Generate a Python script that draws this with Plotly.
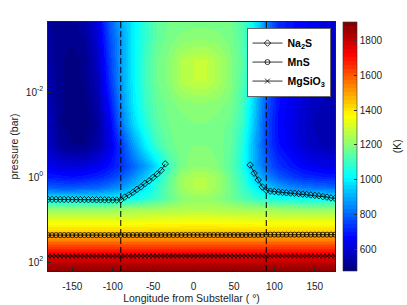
import numpy as np
import plotly.graph_objects as go

# ---------------- data ----------------
# temperature field grid (K): rows follow logp_grid (top -> bottom), columns follow lon_grid
lon_grid = [-180, -165, -150, -135, -120, -105, -90, -75, -60, -45, -30, -15, 0,
            15, 30, 45, 60, 75, 90, 105, 120, 135, 150, 165, 175]
logp_grid = [-3.65, -3.25, -2.75, -2.25, -1.75, -1.25, -0.75, -0.25, 0.0, 0.25, 0.5,
             0.75, 1.0, 1.25, 1.5, 1.75, 2.0, 2.21]
temp_rows = [
    [520, 510, 510, 540, 620, 780, 900, 1000, 1080, 1150, 1170, 1180, 1180, 1180, 1180, 1170, 1120, 1000, 850, 720, 680, 660, 640, 620, 600],
    [530, 500, 500, 520, 600, 760, 880, 1000, 1080, 1150, 1180, 1200, 1210, 1210, 1200, 1180, 1130, 1000, 830, 720, 680, 650, 630, 600, 580],
    [540, 500, 490, 500, 580, 740, 880, 1000, 1100, 1170, 1200, 1260, 1280, 1280, 1250, 1200, 1140, 1010, 820, 700, 660, 640, 610, 580, 570],
    [550, 500, 490, 500, 560, 720, 880, 1000, 1100, 1170, 1200, 1260, 1280, 1280, 1250, 1200, 1130, 990, 800, 690, 650, 620, 590, 570, 560],
    [560, 500, 490, 490, 540, 680, 860, 990, 1090, 1150, 1180, 1200, 1210, 1210, 1200, 1180, 1110, 950, 780, 680, 640, 600, 570, 560, 560],
    [570, 500, 480, 480, 520, 640, 820, 960, 1060, 1140, 1170, 1180, 1190, 1190, 1180, 1160, 1090, 930, 760, 670, 630, 590, 560, 550, 550],
    [580, 520, 500, 500, 540, 620, 740, 880, 1000, 1100, 1160, 1180, 1190, 1190, 1180, 1150, 1060, 900, 760, 680, 640, 600, 570, 560, 560],
    [640, 620, 610, 620, 640, 680, 730, 800, 880, 980, 1100, 1180, 1210, 1210, 1190, 1140, 1050, 900, 800, 730, 690, 660, 640, 630, 630],
    [700, 690, 680, 690, 710, 740, 790, 860, 940, 1040, 1140, 1230, 1260, 1260, 1230, 1160, 1080, 960, 860, 790, 750, 720, 710, 700, 700],
    [800, 790, 790, 800, 810, 840, 880, 940, 1000, 1080, 1160, 1230, 1260, 1260, 1230, 1170, 1100, 1020, 950, 900, 860, 840, 830, 820, 820],
    [990, 990, 990, 990, 990, 1000, 1010, 1030, 1060, 1100, 1150, 1200, 1220, 1220, 1200, 1170, 1130, 1090, 1060, 1040, 1030, 1020, 1020, 1010, 1010],
    [1220, 1220, 1220, 1220, 1220, 1225, 1230, 1235, 1240, 1245, 1250, 1255, 1260, 1260, 1255, 1250, 1245, 1240, 1235, 1230, 1225, 1220, 1220, 1220, 1220],
    [1330, 1330, 1330, 1330, 1330, 1330, 1330, 1332, 1335, 1338, 1340, 1342, 1345, 1345, 1342, 1340, 1338, 1335, 1332, 1330, 1330, 1330, 1330, 1330, 1330],
    [1420, 1420, 1420, 1420, 1420, 1420, 1420, 1420, 1422, 1424, 1425, 1425, 1425, 1425, 1425, 1425, 1424, 1422, 1420, 1420, 1420, 1420, 1420, 1420, 1420],
    [1560, 1560, 1560, 1560, 1560, 1560, 1560, 1560, 1560, 1560, 1560, 1560, 1560, 1560, 1560, 1560, 1560, 1560, 1560, 1560, 1560, 1560, 1560, 1560, 1560],
    [1700, 1700, 1700, 1700, 1700, 1700, 1700, 1700, 1700, 1700, 1700, 1700, 1700, 1700, 1700, 1700, 1700, 1700, 1700, 1700, 1700, 1700, 1700, 1700, 1700],
    [1800, 1800, 1800, 1800, 1800, 1800, 1800, 1800, 1800, 1800, 1800, 1800, 1800, 1800, 1800, 1800, 1800, 1800, 1800, 1800, 1800, 1800, 1800, 1800, 1800],
    [1890, 1890, 1890, 1890, 1890, 1890, 1890, 1890, 1890, 1890, 1890, 1890, 1890, 1890, 1890, 1890, 1890, 1890, 1890, 1890, 1890, 1890, 1890, 1890, 1890],
]
temp_min, temp_max = 475, 1906

# condensation curves: longitude (deg) and pressure (bar)
curve_lon = [-180, -175, -170, -165, -160, -155, -150, -145, -140, -135, -130, -125,
             -120, -115, -110, -105, -100, -95, -90, -85, -80, -75, -70, -65, -60,
             -55, -50, -45, -40, -35, -30, -25, -20, -15, -10, -5, 0, 5, 10, 15, 20,
             25, 30, 35, 40, 45, 50, 55, 60, 65, 70, 75, 80, 85, 90, 95, 100, 105,
             110, 115, 120, 125, 130, 135, 140, 145, 150, 155, 160, 165, 170, 175]
na2s_p = [3.35, 3.35, 3.36, 3.36, 3.37, 3.37, 3.38, 3.38, 3.39, 3.40, 3.40, 3.41,
          3.42, 3.43, 3.44, 3.45, 3.46, 3.47, 3.45, 2.95, 2.63, 2.29, 1.95, 1.70, 1.41,
          1.23, 1.02, 0.85, 0.69, 0.49, None, None, None, None, None, None, None, None,
          None, None, None, None, None, None, None, None, None, None, None, None,
          0.52, 0.81, 1.17, 1.70, 2.04, 2.14, 2.19, 2.24, 2.29, 2.34, 2.37, 2.40, 2.45,
          2.51, 2.57, 2.63, 2.69, 2.75, 2.88, 2.95, 3.09, 3.16]
mns_p = [23.2, 23.2, 23.2, 23.2, 23.2, 23.2, 23.2, 23.2, 23.2, 23.2, 23.2, 23.2,
         23.2, 23.2, 23.2, 23.2, 23.2, 23.2, 23.1, 23.1, 23.1, 23.1, 23.1, 23.1, 23.1,
         23.1, 23.1, 23.1, 23.1, 23.1, 23.1, 23.1, 23.1, 23.1, 23.1, 23.1, 23.1, 23.1,
         23.1, 23.1, 23.1, 23.1, 23.1, 23.1, 23.1, 23.1, 23.1, 23.1, 23.1, 23.1, 23.0,
         23.0, 23.0, 22.9, 22.7, 22.6, 22.6, 22.6, 22.6, 22.6, 22.6, 22.6, 22.6, 22.6,
         22.6, 22.6, 22.6, 22.6, 22.6, 22.6, 22.6, 22.6]
mgsio3_p = [72.0, 72.0, 72.0, 72.0, 72.0, 72.0, 72.0, 72.0, 72.0, 72.0, 72.0, 72.0,
            72.0, 72.0, 72.0, 72.0, 72.0, 72.0, 71.8, 71.8, 71.8, 71.8, 71.8, 71.8,
            71.8, 71.8, 71.8, 71.8, 71.8, 71.8, 71.8, 71.8, 71.8, 71.8, 71.8, 71.8,
            71.8, 71.8, 71.8, 71.8, 71.8, 71.8, 71.8, 71.8, 71.8, 71.8, 71.8, 71.8,
            71.8, 71.8, 71.8, 71.8, 71.8, 71.6, 71.5, 71.5, 71.5, 71.5, 71.5, 71.5,
            71.5, 71.5, 71.5, 71.5, 71.5, 71.5, 71.5, 71.5, 71.5, 71.5, 71.5, 71.5]

terminator_lons = [-90, 90]

x_tickvals = [-150, -100, -50, 0, 50, 100, 150]
x_ticktext = ["-150", "-100", "-50", "0", "50", "100", "150"]
y_tickvals = [-2, 0, 2]
y_ticktext = ["10<sup>-2</sup>", "10<sup>0</sup>", "10<sup>2</sup>"]
cb_tickvals = [600, 800, 1000, 1200, 1400, 1600, 1800]

# ---------------- styling helpers ----------------
def matlab_jet(t):
    r = min(max(1.5 - abs(4 * t - 3), 0), 1)
    g = min(max(1.5 - abs(4 * t - 2), 0), 1)
    b = min(max(1.5 - abs(4 * t - 1), 0), 1)
    return f"rgb({int(round(r*255))},{int(round(g*255))},{int(round(b*255))})"

N = 64
jet_scale = []
for i in range(N):
    c = matlab_jet(i / (N - 1))
    jet_scale.append([i / N, c])
    jet_scale.append([(i + 1) / N, c])

def to_log(vals):
    return [None if v is None else float(np.log10(v)) for v in vals]

FONT = "Liberation Sans, Arial, Helvetica, sans-serif"
TXT = "#222"

fig = go.Figure()
fig.add_trace(go.Heatmap(
    x=lon_grid, y=logp_grid, z=temp_rows,
    zmin=temp_min, zmax=temp_max, zsmooth="best",
    colorscale=jet_scale, showlegend=False, hoverinfo="skip",
    colorbar=dict(
        x=1.028, xanchor="left", xpad=0, y=0.5, yanchor="middle",
        len=1.0, lenmode="fraction", thickness=14, ypad=0,
        outlinewidth=0.6, outlinecolor="#333",
        tickvals=cb_tickvals, ticks="inside", ticklen=3, tickcolor="#333",
        tickfont=dict(family=FONT, size=10, color=TXT),
    ),
))

for lon in terminator_lons:
    fig.add_shape(type="line", xref="x", yref="paper", x0=lon, x1=lon, y0=0, y1=1,
                  line=dict(color="black", width=1, dash="6px,3px"))

fig.add_trace(go.Scatter(
    x=curve_lon, y=to_log(na2s_p), mode="lines+markers", name="Na<sub>2</sub>S",
    line=dict(color="black", width=0.8),
    marker=dict(symbol="diamond-open", size=5, color="black", line=dict(width=0.8)),
    connectgaps=False))
fig.add_trace(go.Scatter(
    x=curve_lon, y=to_log(mns_p), mode="lines+markers", name="MnS",
    line=dict(color="black", width=0.8),
    marker=dict(symbol="circle-open", size=5, color="black", line=dict(width=0.8))))
fig.add_trace(go.Scatter(
    x=curve_lon, y=to_log(mgsio3_p), mode="lines+markers", name="MgSiO<sub>3</sub>",
    line=dict(color="black", width=0.8),
    marker=dict(symbol="x-thin-open", size=5, color="black", line=dict(width=0.8))))

# colorbar label (K), placed like the reference's colorbar ylabel
fig.add_annotation(text="(K)", xref="paper", yref="paper", x=1.215, y=0.5,
                   xanchor="center", yanchor="middle", textangle=-90, showarrow=False,
                   font=dict(family=FONT, size=10.5, color=TXT))

fig.update_layout(
    width=407, height=305,
    margin=dict(l=48, r=72, t=22, b=34),
    paper_bgcolor="white", plot_bgcolor="white",
    font=dict(family=FONT, size=10, color=TXT),
    legend=dict(
        x=0.693, y=0.976, xanchor="left", yanchor="top",
        bgcolor="white", bordercolor="black", borderwidth=0.6,
        font=dict(family=FONT, size=10.5, color="black", weight="bold"),
        itemwidth=30, tracegroupgap=0,
    ),
    xaxis=dict(
        range=[-180, 175], tickvals=x_tickvals, ticktext=x_ticktext,
        ticks="inside", ticklen=3, tickcolor=TXT, automargin=False,
        showline=True, linecolor=TXT, linewidth=0.6, mirror=True,
        showgrid=False, zeroline=False, ticklabelstandoff=6,
        tickfont=dict(family=FONT, size=10, color=TXT),
        title=dict(text="Longitude from Substellar ( °)", standoff=3,
                   font=dict(family=FONT, size=10.5, color=TXT)),
    ),
    yaxis=dict(
        range=[2.21, -3.65], tickvals=y_tickvals, ticktext=y_ticktext,
        ticks="inside", ticklen=3, tickcolor=TXT, automargin=False,
        showline=True, linecolor=TXT, linewidth=0.6, mirror=True,
        showgrid=False, zeroline=False, ticklabelstandoff=2,
        tickfont=dict(family=FONT, size=10, color=TXT),
        title=dict(text="pressure (bar)", standoff=5,
                   font=dict(family=FONT, size=10.5, color=TXT)),
    ),
)

fig.write_html("out.html", config={"displayModeBar": False},
               post_script="document.body.style.margin='0';document.body.style.padding='0';")
